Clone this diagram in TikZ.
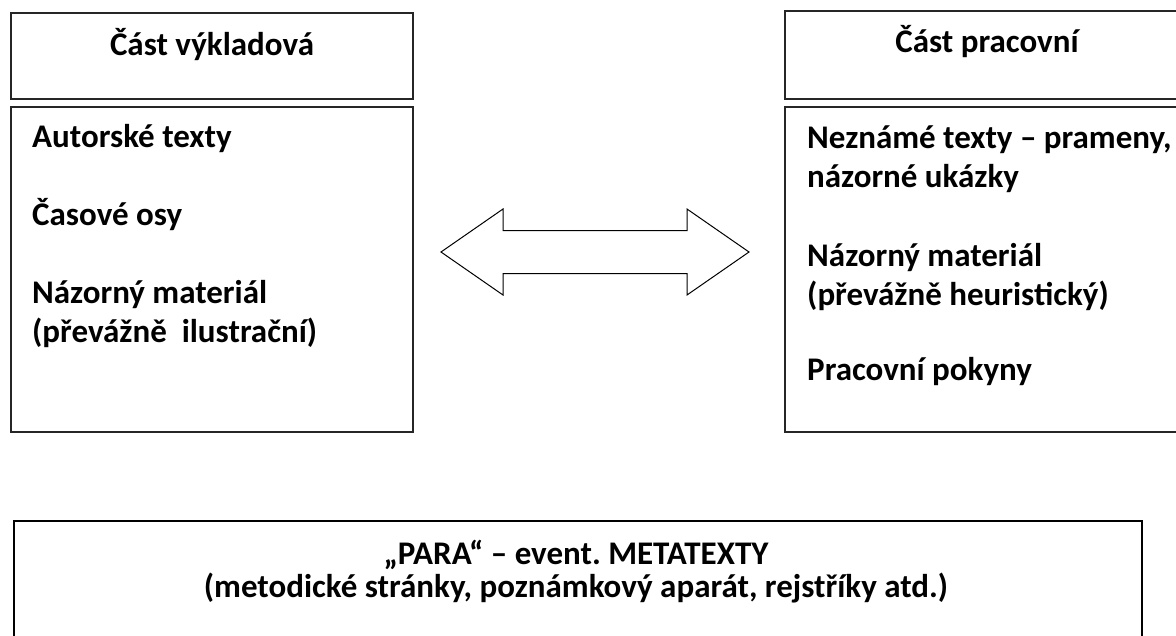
\documentclass[tikz,border=0pt]{standalone}
\usepackage{fontspec}
\setmainfont{Carlito}
\usetikzlibrary{positioning,calc}
\tikzset{>=stealth}
\frenchspacing

\begin{document}
\begin{tikzpicture}[x=1pt,y=-1pt,
  box/.style={draw=black!85,line width=1.5pt,inner sep=0pt},
  head/.style={font=\bfseries\fontsize{33}{39}\selectfont,anchor=base,inner sep=0pt},
  item/.style={font=\bfseries\fontsize{33}{39}\selectfont,anchor=base west,align=left,inner sep=0pt}]
\clip (0,0) rectangle (1176,635);
% upper boxes
\node[box,minimum width=402pt,minimum height=86pt] (vyklad) at (212,56) {};
\node[box,minimum width=402pt,minimum height=325pt] (vykladBody) at (212,269.5) {};
\node[box,minimum width=404pt,minimum height=88pt] (prac) at (987,55) {};
\node[box,minimum width=404pt,minimum height=325pt] (pracBody) at (987,269.5) {};
\node[head] (vykladTitle) at (212,55) {Část výkladová};
\node[head] (pracTitle) at (987,52) {Část pracovní};
% left column (multi-line nodes sit on their last baseline)
\node[item] (autor) at (32,147) {Autorské texty};
\node[item] (osy) at (32,225) {Časové osy};
\node[item] (nazorL) at (32,342) {Názorný materiál\\(převážně\ \ ilustrační)};
% right column
\node[item] (prameny) at (807,187) {Neznámé texty – prameny,\\názorné ukázky};
\node[item] (nazorR) at (807,305) {Názorný materiál\\(převážně heuristický)};
\node[item] (pokyny) at (807,380) {Pracovní pokyny};
% double arrow
\draw[line width=1pt,line join=miter] (441,252) coordinate (tipL) -- (503,209) -- (503,230.5)
  -- (687,230.5) -- (687,209) -- (749,252) coordinate (tipR) -- (687,295) -- (687,273.5)
  -- (503,273.5) -- (503,295) -- cycle;
% bottom box
\node[box,draw=black,line width=2pt,minimum width=1128pt,minimum height=140pt] (para) at (578,591) {};
\node[item,anchor=base,align=center,font=\bfseries\fontsize{33}{33}\selectfont] (paraText) at (576,597)
  {„PARA“ – event. METATEXTY\\(metodické stránky, poznámkový aparát, rejstříky atd.)};
\end{tikzpicture}
\end{document}
